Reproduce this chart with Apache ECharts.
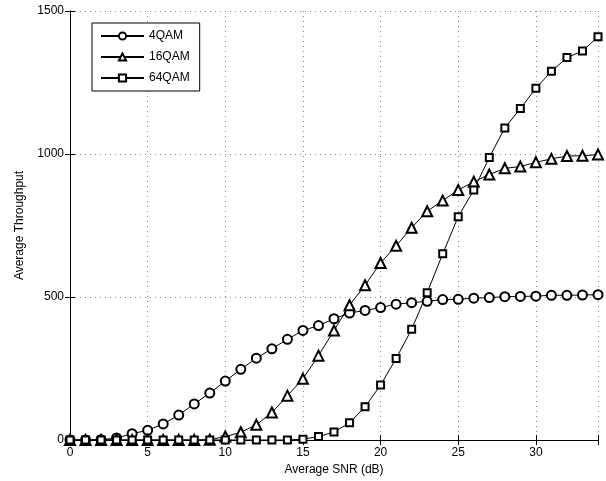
<!DOCTYPE html>
<html><head><meta charset="utf-8">
<script src="https://cdn.jsdelivr.net/npm/echarts@6/dist/echarts.min.js"></script>
<style>html,body{margin:0;padding:0;background:#fff}#c{width:606px;height:481px}</style>
</head><body><div id="c"></div>
<script>
var snr = [0,1,2,3,4,5,6,7,8,9,10,11,12,13,14,15,16,17,18,19,20,21,22,23,24,25,26,27,28,29,30,31,32,33,34];
var qam4 = [0,0,1,7,22,34,56,87,126,164,206,247,286,319,352,383,400,424,444,453,463,475,480,485,491,492,496,498,501,502,503,506,506,507,508];
var qam16 = [0,0,0,0,0,0,0,0,0,1,12,27,53,96,155,214,295,383,471,541,619,679,742,800,837,874,903,928,950,956,971,983,993,994,998];
var qam64 = [0,0,0,0,0,0,0,0,0,0,0,0,0,0,0,3,12,28,60,116,192,285,387,515,651,781,874,988,1091,1159,1230,1289,1337,1360,1410];
var seriesNames = ['4QAM','16QAM','64QAM'];
var xTickValues = [0,5,10,15,20,25,30];
var yTickValues = [0,500,1000,1500];

function pairs(ys){ return snr.map(function(x,i){ return [x, ys[i]]; }); }
var font = 'Liberation Sans, Arial, Helvetica, sans-serif';
var chart = echarts.init(document.getElementById('c'));
var symbols = ['emptyCircle','emptyTriangle','emptyRect'];
var sizes = [9,10,7];
var data = [qam4, qam16, qam64];
chart.setOption({
  animation:false,
  backgroundColor:'#fff',
  textStyle:{fontFamily:font},
  grid:{left:70,right:8,top:11,bottom:41},
  legend:{
    orient:'vertical', left:92, top:23,
    data:seriesNames,
    itemWidth:43, itemHeight:9, itemGap:9,
    padding:[7,10,7,8],
    borderColor:'#000', borderWidth:1, backgroundColor:'#fff',
    textStyle:{fontFamily:font,fontSize:12,color:'#000'}
  },
  xAxis:[{
    type:'value', min:0, max:34, interval:5,
    name:'Average SNR (dB)', nameLocation:'middle', nameGap:20,
    nameTextStyle:{fontFamily:font,fontSize:12,color:'#000'},
    axisLine:{lineStyle:{color:'#000',width:1}},
    axisTick:{inside:true,length:5,lineStyle:{color:'#000'}},
    axisLabel:{margin:7,fontFamily:font,fontSize:12,color:'#000',
      formatter:function(v){ return xTickValues.indexOf(v)>=0 ? String(v) : ''; }},
    splitLine:{show:true,lineStyle:{color:'#888',type:[1,4],width:1}}
  },{
    type:'value', min:0, max:34, interval:5, position:'top',
    axisLine:{lineStyle:{color:'#000'}},
    axisTick:{inside:true,length:5,lineStyle:{color:'#000'}},
    axisLabel:{show:false}, splitLine:{show:false}
  }],
  yAxis:[{
    type:'value', min:0, max:1500, interval:500,
    name:'Average Throughput', nameLocation:'middle', nameGap:44, nameRotate:90,
    nameTextStyle:{fontFamily:font,fontSize:12,color:'#000'},
    axisLine:{show:true,lineStyle:{color:'#000',width:1}},
    axisTick:{show:true,inside:true,length:5,lineStyle:{color:'#000'}},
    axisLabel:{margin:6,fontFamily:font,fontSize:12,color:'#000',
      formatter:function(v){ return yTickValues.indexOf(v)>=0 ? String(v) : ''; }},
    splitLine:{show:true,lineStyle:{color:'#888',type:[1,4],width:1}}
  },{
    type:'value', min:0, max:1500, interval:500, position:'right',
    axisLine:{show:true,lineStyle:{color:'#000'}},
    axisTick:{show:true,inside:true,length:5,lineStyle:{color:'#000'}},
    axisLabel:{show:false}, splitLine:{show:false}
  }],
  series:seriesNames.map(function(n,i){
    return {
      name:n, type:'line', data:pairs(data[i]), xAxisIndex:0, yAxisIndex:0,
      symbol:symbols[i], symbolSize:sizes[i], showAllSymbol:true,
      color:'#000',
      lineStyle:{color:'#000',width:1},
      itemStyle:{color:'#000',borderColor:'#000',borderWidth:1},
      emphasis:{disabled:true}
    };
  })
});
</script></body></html>
